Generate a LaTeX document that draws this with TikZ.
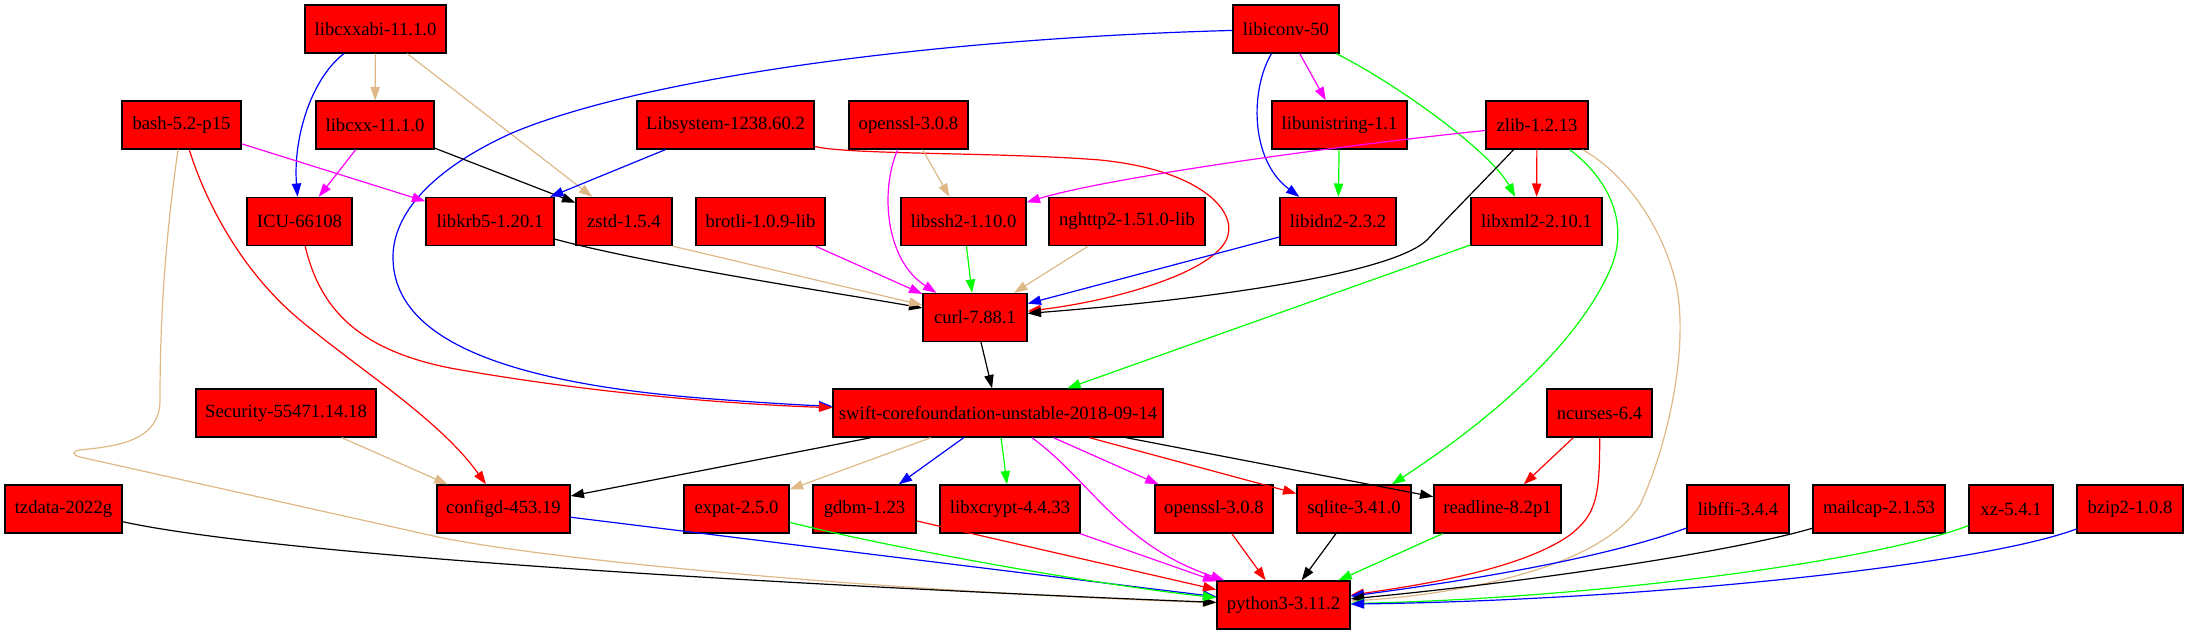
\documentclass[tikz,border=0pt]{standalone}
\usepackage{fontspec}
\setmainfont{Liberation Serif}
\usetikzlibrary{arrows.meta}
\definecolor{gvtan}{HTML}{DEB887}
\definecolor{gvred}{HTML}{FF0000}
\definecolor{gvblue}{HTML}{0000FF}
\definecolor{gvmag}{HTML}{FF00FF}
\definecolor{gvgreen}{HTML}{00FF00}
\begin{document}
\begin{tikzpicture}[x=0.75pt,y=-0.75pt,
  pkg/.style={draw=black, fill=gvred, line width=1pt, minimum height=36pt,
              inner sep=0pt, font=\fontsize{14pt}{16pt}\selectfont},
  dep/.style={line width=0.9pt, -{Triangle[length=10pt,width=7pt]}},
]
\useasboundingbox (0,0) rectangle (2188,635);
% row 1
\node[pkg, minimum width=105.75pt] (libcxxabi) at (375.5,29) {libcxxabi-11.1.0};
\node[pkg, minimum width=79.5pt]   (libiconv)  at (1286,29)  {libiconv-50};
% row 2
\node[pkg, minimum width=89.25pt]  (bash)      at (181.5,125) {bash-5.2-p15};
\node[pkg, minimum width=88.5pt]   (libcxx)    at (375,125)   {libcxx-11.1.0};
\node[pkg, minimum width=132.75pt] (libsystem) at (725.5,125) {Libsystem-1238.60.2};
\node[pkg, minimum width=89.25pt]  (openssla)  at (908.5,125) {openssl-3.0.8};
\node[pkg, minimum width=101.25pt] (libunistring) at (1339.5,125) {libunistring-1.1};
\node[pkg, minimum width=76.5pt]   (zlib)      at (1537,125)  {zlib-1.2.13};
% row 3
\node[pkg, minimum width=78.75pt]  (icu)       at (299.5,221.5) {ICU-66108};
\node[pkg, minimum width=96pt]     (libkrb5)   at (490,221.5)   {libkrb5-1.20.1};
\node[pkg, minimum width=72pt]     (zstd)      at (624,221.5)   {zstd-1.5.4};
\node[pkg, minimum width=96.75pt]  (brotli)    at (760.5,221.5) {brotli-1.0.9-lib};
\node[pkg, minimum width=93.75pt]  (libssh2)   at (963.5,221.5) {libssh2-1.10.0};
\node[pkg, minimum width=117pt]    (nghttp2)   at (1127,221.5)  {nghttp2-1.51.0-lib};
\node[pkg, minimum width=87pt]     (libidn2)   at (1338,221.5)  {libidn2-2.3.2};
\node[pkg, minimum width=98.25pt]  (libxml2)   at (1536.5,221.5) {libxml2-2.10.1};
% row 4
\node[pkg, minimum width=78pt]     (curl)      at (975,317.5)  {curl-7.88.1};
% row 5
\node[pkg, minimum width=135pt]    (security)  at (286,413)   {Security-55471.14.18};
\node[pkg, minimum width=247.5pt]  (swift)     at (998,413)   {swift-corefoundation-unstable-2018-09-14};
\node[pkg, minimum width=78.75pt]  (ncurses)   at (1599.5,413) {ncurses-6.4};
% row 6
\node[pkg, minimum width=87.75pt]  (tzdata)    at (63.5,509)  {tzdata-2022g};
\node[pkg, minimum width=99.75pt]  (configd)   at (503.5,509) {configd-453.19};
\node[pkg, minimum width=78.75pt]  (expat)     at (736.5,509) {expat-2.5.0};
\node[pkg, minimum width=77.25pt]  (gdbm)      at (864.5,509) {gdbm-1.23};
\node[pkg, minimum width=105pt]    (libxcrypt) at (1010,509)  {libxcrypt-4.4.33};
\node[pkg, minimum width=88.5pt]   (opensslb)  at (1214,509)  {openssl-3.0.8};
\node[pkg, minimum width=85.5pt]   (sqlite)    at (1354,509)  {sqlite-3.41.0};
\node[pkg, minimum width=95.25pt]  (readline)  at (1497.5,509) {readline-8.2p1};
\node[pkg, minimum width=76.5pt]   (libffi)    at (1738,509)  {libffi-3.4.4};
\node[pkg, minimum width=99pt]     (mailcap)   at (1879,509)  {mailcap-2.1.53};
\node[pkg, minimum width=63pt]     (xz)        at (2011,509)  {xz-5.4.1};
\node[pkg, minimum width=79.5pt]   (bzip2)     at (2130,509)  {bzip2-1.0.8};
% row 7
\node[pkg, minimum width=99.75pt]  (python)    at (1283.5,605) {python3-3.11.2};

% ---- edges ----
% libcxxabi
\draw[dep, gvblue] (libcxxabi) .. controls (310,80) and (293,140) .. (icu);
\draw[dep, gvtan] (libcxxabi) -- (libcxx);
\draw[dep, gvtan] (libcxxabi) -- (zstd);
% libiconv
\draw[dep, gvblue] (libiconv) .. controls (950,38) and (650,75) .. (512,133)
   .. controls (430,170) and (393,215) .. (393,257)
   .. controls (393,330) and (480,380) .. (700,398)
   .. controls (750,402) and (800,405) .. (swift);
\draw[dep, gvblue] (libiconv) .. controls (1250,90) and (1250,160) .. ([xshift=15pt]libidn2.north west);
\draw[dep, gvmag] (libiconv) -- (libunistring);
\draw[dep, gvgreen] (libiconv) .. controls (1390,80) and (1490,150) .. ([xshift=-16pt]libxml2.north);
% bash
\draw[dep, gvmag] (bash) -- (libkrb5);
\draw[dep, gvred] (bash) .. controls (205,200) and (240,270) .. (300,320)
   .. controls (360,370) and (440,420) .. (configd);
\draw[dep, gvtan] (bash) .. controls (168,220) and (160,300) .. (160,400)
   .. controls (160,440) and (120,446) .. (80,450)
   .. controls (72,451) and (72,455) .. (80,457)
   -- (438,537) .. controls (560,562) and (900,592) .. (python);
% libcxx
\draw[dep, gvmag] (libcxx) -- (icu);
\draw[dep, black] (libcxx) -- (zstd);
% Libsystem
\draw[dep, gvblue] (libsystem) -- (libkrb5);
\draw[dep, gvred] (libsystem) .. controls (850,155) and (1000,152) .. (1100,160)
   .. controls (1200,170) and (1235,210) .. (1228,235)
   .. controls (1220,270) and (1120,300) .. (curl);
% openssl (top)
\draw[dep, gvtan] (openssla) -- (libssh2);
\draw[dep, gvmag] (openssla) .. controls (880,190) and (885,260) .. (curl);
% zlib
\draw[dep, gvmag] (zlib) .. controls (1300,150) and (1100,180) .. (libssh2);
\draw[dep, gvred] (zlib) -- (libxml2);
\draw[dep, black] (zlib) .. controls (1480,185) and (1450,215) .. (1427,240)
   .. controls (1390,275) and (1200,300) .. (curl);
\draw[dep, gvgreen] (zlib) .. controls (1610,180) and (1630,225) .. (1610,270)
   .. controls (1570,360) and (1460,440) .. (sqlite);
\draw[dep, gvtan] (zlib) .. controls (1620,170) and (1660,220) .. (1675,280)
   .. controls (1690,340) and (1670,440) .. (1640,505)
   .. controls (1600,570) and (1450,595) .. (python);
% libunistring
\draw[dep, gvgreen] (libunistring) -- (libidn2);
% row 3 to curl / swift
\draw[dep, gvred] (icu) .. controls (320,310) and (360,350) .. (450,368)
   .. controls (600,395) and (750,405) .. (swift);
\draw[dep, black] (libkrb5) .. controls (650,265) and (850,295) .. (curl);
\draw[dep, gvtan] (zstd.south east) -- (curl);
\draw[dep, gvmag] (brotli) -- (curl);
\draw[dep, gvgreen] (libssh2) -- (curl);
\draw[dep, gvtan] (nghttp2) -- (curl);
\draw[dep, gvblue] (libidn2) -- (curl);
\draw[dep, gvgreen] (libxml2) -- (swift);
\draw[dep, black] (curl) -- (swift);
% row 5
\draw[dep, gvtan] (security) -- (configd);
\draw[dep, black] (swift) -- (configd);
\draw[dep, gvtan] (swift) -- (expat);
\draw[dep, gvblue] (swift) -- (gdbm);
\draw[dep, gvgreen] (swift) -- (libxcrypt);
\draw[dep, gvmag] (swift) .. controls (1090,480) and (1120,545) .. ([xshift=6pt]python.north west);
\draw[dep, gvmag] (swift) -- (opensslb);
\draw[dep, gvred] (swift) -- (sqlite);
\draw[dep, black] (swift) -- (readline);
\draw[dep, gvred] (ncurses) -- (readline);
\draw[dep, gvred] (ncurses) .. controls (1600,500) and (1595,515) .. (1570,535)
   .. controls (1520,570) and (1420,585) .. (python);
% row 6 to python
\draw[dep, black] (tzdata) .. controls (300,560) and (900,590) .. (python);
\draw[dep, gvblue] (configd) -- (python);
\draw[dep, gvgreen] (expat) .. controls (900,550) and (1100,585) .. (python);
\draw[dep, gvred] (gdbm) -- (python);
\draw[dep, gvmag] (libxcrypt) -- (python);
\draw[dep, gvred] (opensslb) -- (python);
\draw[dep, black] (sqlite) -- (python);
\draw[dep, gvgreen] (readline) -- (python);
\draw[dep, gvblue] (libffi) .. controls (1600,560) and (1450,583) .. (python);
\draw[dep, black] (mailcap) .. controls (1720,555) and (1500,585) .. (python);
\draw[dep, gvgreen] (xz) .. controls (1880,560) and (1600,598) .. (python);
\draw[dep, gvblue] (bzip2) .. controls (1980,565) and (1650,600) .. (python);
\end{tikzpicture}
\end{document}
